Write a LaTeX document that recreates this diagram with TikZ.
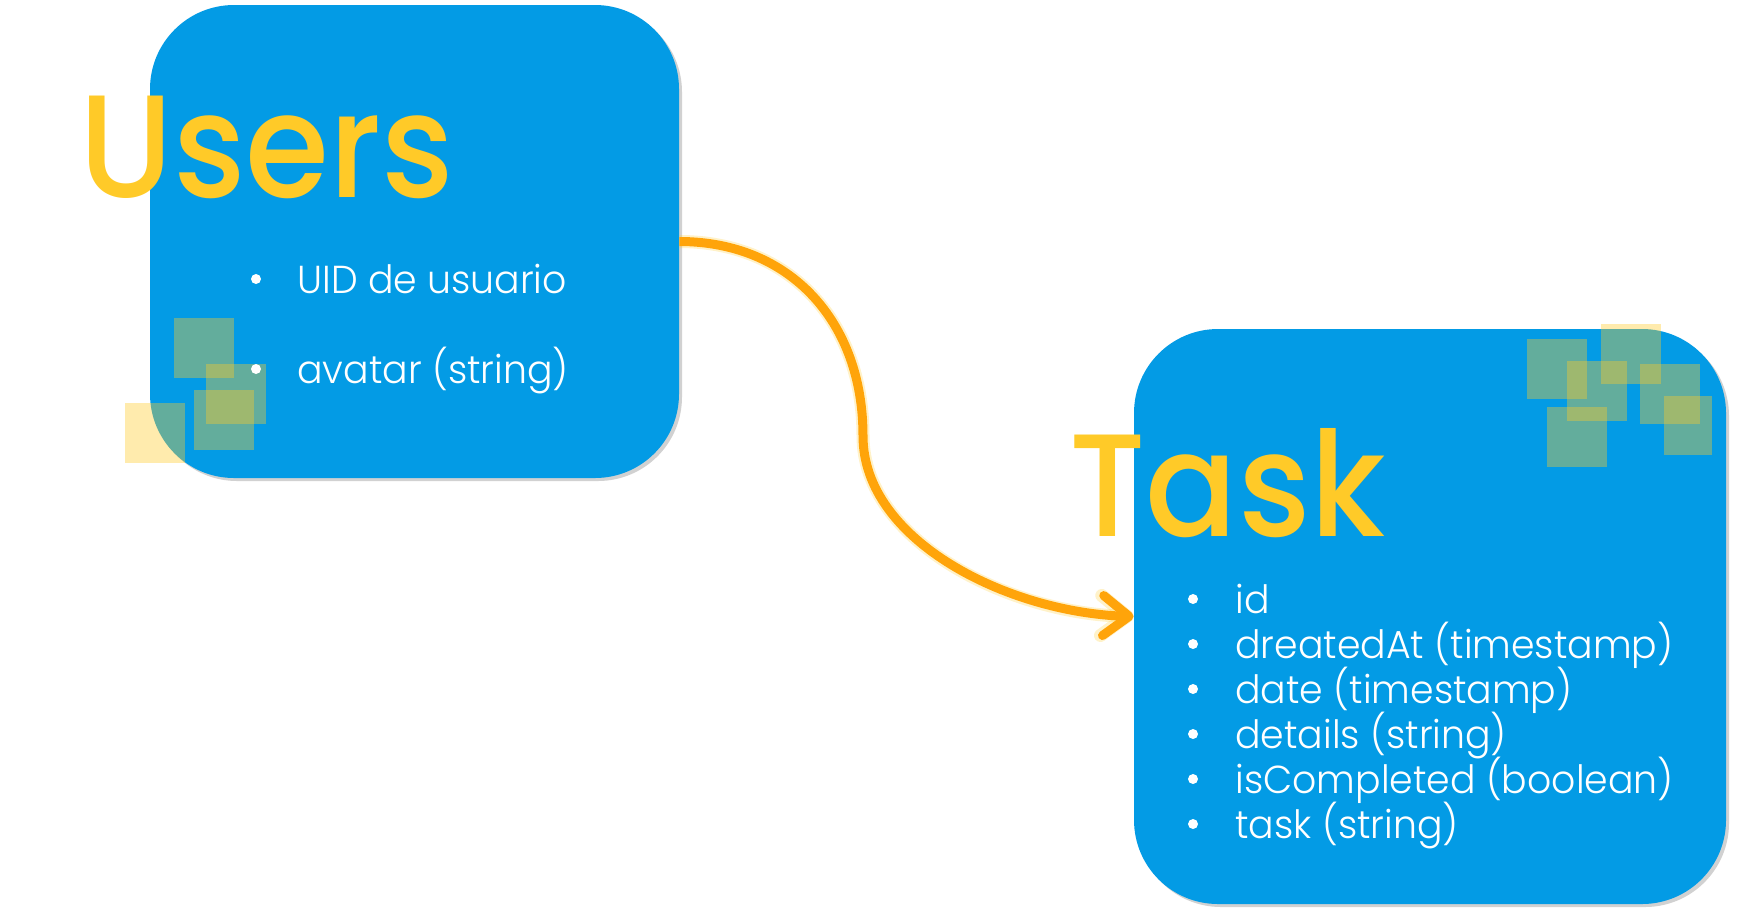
\documentclass[tikz,border=0pt]{standalone}
\usepackage{fontspec}
\setmainfont{Poppins}[FakeStretch=0.95]
\newfontfamily\titlefont{Poppins Medium}[FakeStretch=0.93]
\newfontfamily\lightfont{Poppins Light}[FakeStretch=0.97]
\usetikzlibrary{arrows.meta, shadows}

\definecolor{boxblue}{HTML}{039BE5}
\definecolor{titleyellow}{HTML}{FFCA28}
\definecolor{tileyellow}{HTML}{FFCC29}
\definecolor{flowline}{HTML}{FFA40A}

\begin{document}
\begin{tikzpicture}[
		x=0.5pt, y=-0.5pt,
		% Style for the two collections
		entity/.style={
			fill=boxblue, rounded corners=42pt, inner sep=0pt,
			drop shadow={shadow xshift=1.5pt, shadow yshift=-1.5pt, fill=black, opacity=0.18}
		},
		% Style for the see-through squares
		tile/.style={fill=tileyellow, fill opacity=0.385},
		title/.style={font=\titlefont\fontsize{73}{73}\selectfont, text=titleyellow, anchor=base west, inner sep=0pt},
		field/.style={font=\lightfont\fontsize{19.5}{19.5}\selectfont, text=white, anchor=base west, inner sep=0pt},
		dot/.style={circle, fill=white, inner sep=0pt, minimum size=5pt},
		flow/.style={
			draw=flowline, line width=4.5pt, -{Straight Barb[length=13pt, width=20pt, round]},
			preaction={draw=titleyellow, line width=6.5pt, opacity=0.25}
		}
		]
		\useasboundingbox (0,0) rectangle (1739,918);
		
		% --- 1. COLLECTION BOXES ---
		\node[entity, minimum width=264.5pt, minimum height=236.5pt] (users) at (414.5,241.5) {};
		\node[entity, minimum width=296pt, minimum height=287.5pt] (task) at (1430,616.5) {};
		
		% --- 2. SQUARES ---
		\foreach \sx/\sy in {174/318, 206/364, 194/390, 125/403,
			1527/339, 1567/361, 1601/324, 1640/364, 1547/407}
		\fill[tile] (\sx,\sy) rectangle ++(60,60);
		\fill[tile] (1664,396) rectangle ++(48,59);
		
		% --- 3. USERS ---
		\node[title] (users-title) at (79,197) {Users};
		\node[dot] (uid-dot) at (256,279) {};
		\node[field] (uid) at (297,293) {UID de usuario};
		\node[dot] (avatar-dot) at (256,369) {};
		\node[field] (avatar) at (297,383) {avatar (string)};
		
		% --- 4. TASK ---
		\node[title] (task-title) at (1069,536) {Task};
		\foreach \txt [count=\i, evaluate=\i as \yb using 568+45*\i] in
			{id, dreatedAt (timestamp), date (timestamp), details (string),
			 isCompleted (boolean), task (string)} {
			\node[dot] (task-dot-\i) at (1193,\yb-14) {};
			\node[field] (task-\i) at (1235,\yb) {\txt};
		}
		
		% --- ARROW ---
		\coordinate (bend) at (863,436);
		\draw[flow] (users.east) .. controls +(110,0) and +(0,-115) .. (bend)
			.. controls +(0,105) and +(-125,-4) .. (task.west);
		
	\end{tikzpicture}
\end{document}
